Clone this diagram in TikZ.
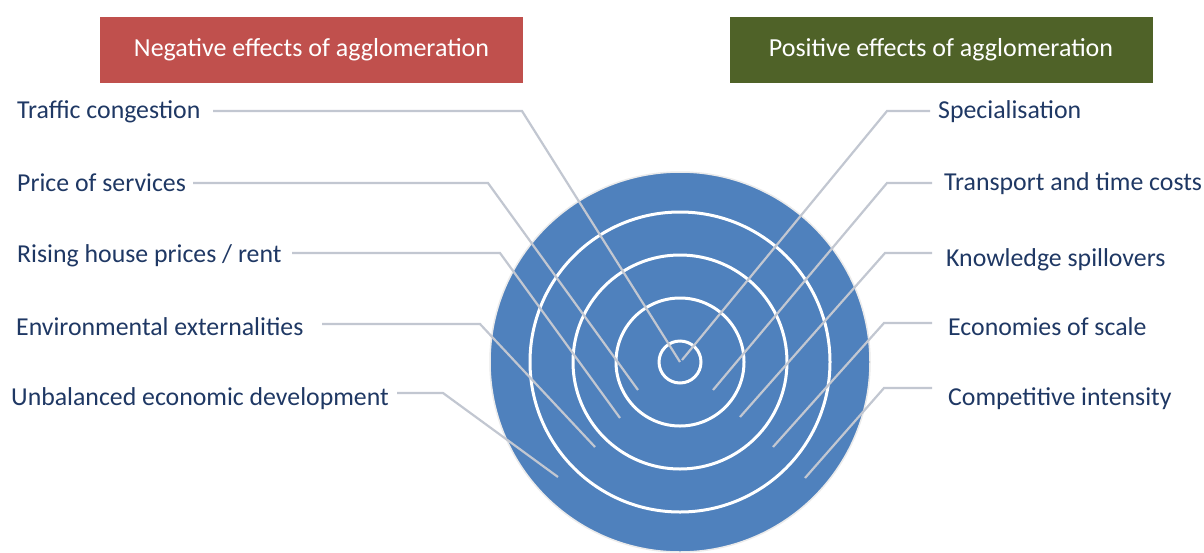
\documentclass[tikz,border=0pt]{standalone}
\usepackage{fontspec}
\setmainfont{Carlito}
\definecolor{targetBlue}{RGB}{79,129,189}
\definecolor{negRed}{RGB}{192,80,77}
\definecolor{posGreen}{RGB}{79,98,40}
\definecolor{labelBlue}{RGB}{31,56,100}
\definecolor{leaderGrey}{RGB}{194,199,209}

\begin{document}
\begin{tikzpicture}
[x=1pt,y=-1pt,
  headDecorate/.style={minimum width=423pt,minimum height=66pt,inner sep=0pt,text=white,font=\fontsize{26}{31}\selectfont},%
  labelDecorate/.style={anchor=base west,inner sep=0pt,text=labelBlue,font=\fontsize{25.8}{31}\selectfont},
  lineDecorate/.style={-,line width=2.2pt,draw=leaderGrey},
  ringDecorate/.style={draw=white,line width=3pt}]
\fill[white] (0,0) rectangle (1204,552);
\useasboundingbox (0,0) rectangle (1204,552);
%% headers
\node (neg) at (311.5,50) [headDecorate,fill=negRed] {Negative effects of agglomeration};
\node (pos) at (941,50) [headDecorate,fill=posGreen] {Positive effects of agglomeration};
%% target
\coordinate (hub) at (680,362);
\fill[targetBlue,draw=black!8,line width=1.5pt] (hub) circle (190pt);
\foreach \r in {150,107,64,21} {
  \draw[ringDecorate] (hub) circle (\r pt);
}
%% negative labels and leader lines
\foreach \nodename/\x/\y/\sx/\bx/\by/\ex/\ey/\txt in {
  traffic/17/118/213/522/111/680/362/{Traffic congestion},
  price/17/191/193/488/183/638/390/{Price of services},
  rising/17/262/292/500/253/620/418/{Rising house prices / rent},
  environ/16/335/322/480/324/595/447/{Environmental externalities},
  unbal/11/405/397/443/393/558/477/{Unbalanced economic development}} {
  \node (\nodename) at (\x,\y) [labelDecorate] {\txt};
  \coordinate (\nodename-start) at (\sx,\by);
  \coordinate (\nodename-bend) at (\bx,\by);
  \coordinate (\nodename-end) at (\ex,\ey);
  \draw[lineDecorate] (\nodename-start) -- (\nodename-bend) -- (\nodename-end);
}
%% positive labels and leader lines
\foreach \nodename/\x/\y/\sx/\bx/\by/\ex/\ey/\txt in {
  special/938/118/930/887/111/682/360/{Specialisation},
  transport/944/190/932/887/183/713/390/{Transport and time costs},
  knowledge/946/266/932/885/253/740/417/{Knowledge spillovers},
  economies/948/335/932/884/323/773/447/{Economies of scale},
  compet/948/405/932/884/388/805/478/{Competitive intensity}} {
  \node (\nodename) at (\x,\y) [labelDecorate] {\txt};
  \coordinate (\nodename-start) at (\sx,\by);
  \coordinate (\nodename-bend) at (\bx,\by);
  \coordinate (\nodename-end) at (\ex,\ey);
  \draw[lineDecorate] (\nodename-start) -- (\nodename-bend) -- (\nodename-end);
}
\end{tikzpicture}
\end{document}
